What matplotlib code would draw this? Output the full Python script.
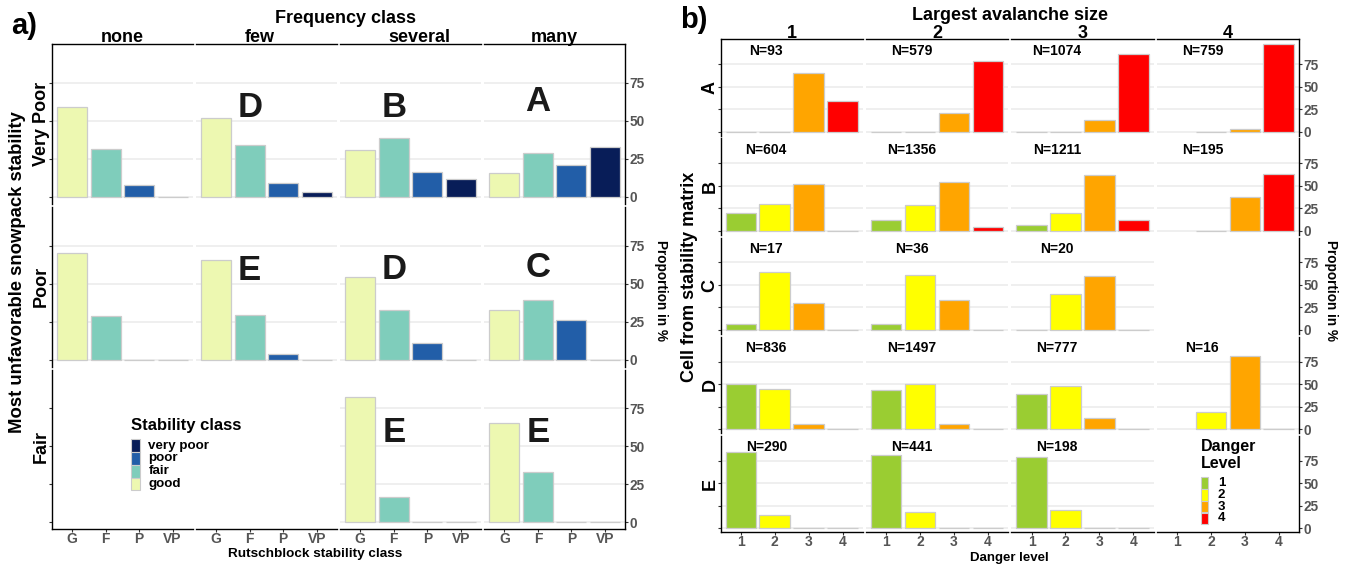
import numpy as np
import matplotlib
matplotlib.use('Agg')
import matplotlib.pyplot as plt
from matplotlib.patches import Rectangle

plt.rcParams['font.family'] = ['Liberation Sans', 'DejaVu Sans']

# ---------------- data: panel a ----------------
freq_classes = ['none', 'few', 'several', 'many']
stability_rows = ['Very Poor', 'Poor', 'Fair']
rb_classes = ['G', 'F', 'P', 'VP']
stability_legend = ['very poor', 'poor', 'fair', 'good']
stability_colors = ['#EDF8B1', '#7FCDBB', '#225EA8', '#081D58']  # G, F, P, VP

a_very_poor = [[59.4, 31.8, 7.7, 0.0], [51.8, 34.2, 9.2, 3.5],
               [31.1, 38.6, 16.7, 12.0], [16.0, 28.9, 20.8, 33.1]]
a_poor = [[69.9, 28.7, 0.0, 0.0], [65.6, 29.4, 3.5, 0.0],
          [54.4, 32.7, 10.7, 0.0], [32.7, 39.0, 25.9, 0.0]]
a_fair = [None, None, [82.4, 16.6, 0.0, 0.0], [65.6, 33.1, 0.0, 0.0]]
a_letters = [[None, 'D', 'B', 'A'], [None, 'E', 'D', 'C'], [None, None, 'E', 'E']]
a_letter_y = [[None, 61, 61, 65], [None, 60.7, 61.5, 62.9], [None, None, 61.4, 61.4]]

# ---------------- data: panel b ----------------
nan = np.nan
aval_sizes = ['1', '2', '3', '4']
matrix_cells = ['A', 'B', 'C', 'D', 'E']
danger_levels = ['1', '2', '3', '4']
danger_colors = ['#9ACD32', '#FFFF00', '#FFA500', '#FF0000']

b_cell_A = [[0, 0, 65.6, 34.4], [0, 0, 21.1, 78.6], [0, 0, 13.0, 86.3], [nan, 0, 2.6, 97.1]]
b_cell_B = [[19.3, 29.6, 51.5, 0], [12.4, 28.2, 54.8, 4.6], [6.2, 19.8, 62.3, 12.0], [nan, 0, 37.4, 63.0]]
b_cell_C = [[6.3, 64.8, 29.6, 0], [6.3, 61.0, 33.5, 0], [0, 40.0, 60.0, 0], None]
b_cell_D = [[49.7, 44.1, 5.2, 0], [43.3, 50.0, 6.0, 0], [39.3, 48.2, 11.9, 0], [nan, 18.5, 80.8, 0]]
b_cell_E = [[84.4, 14.1, 0.6, 0], [81.5, 18.5, 0, 0], [79.3, 20.4, 0, 0], None]
b_counts = [[93, 579, 1074, 759], [604, 1356, 1211, 195], [17, 36, 20, None],
            [836, 1497, 777, 16], [290, 441, 198, None]]

# ---------------- figure ----------------
W, H = 1348, 566
fig = plt.figure(figsize=(W / 100, H / 100), dpi=100)
fig.patch.set_facecolor('white')

GRID_C = '#EBEBEB'
EDGE_C = '#CCCCCC'
TICK_C = '#555555'
BOLD = 'bold'


def add_ax(x0, y0, w, h):
    return fig.add_axes([x0 / W, 1 - (y0 + h) / H, w / W, h / H])


def ftext(x, y, s, **kw):
    return fig.text(x / W, 1 - y / H, s, **kw)


def style(ax, ylim, left, right, top, bottom, blank, xlabels):
    ax.set_xlim(0.4, 4.6)
    ax.set_ylim(*ylim)
    ax.set_facecolor('white')
    for name, flag in (('left', left), ('right', right), ('top', top), ('bottom', bottom)):
        ax.spines[name].set_visible(flag)
        ax.spines[name].set_color('black')
        ax.spines[name].set_linewidth(1.0)
    if not blank:
        for g in (0, 25, 50, 75):
            ax.axhline(g, color=GRID_C, lw=1.1, zorder=0)
    ax.set_yticks([0, 25, 50, 75])
    if right:
        ax.yaxis.tick_right()
        ax.set_yticklabels(['0', '25', '50', '75'])
        ax.tick_params(axis='y', right=True, left=False, labelright=True, labelleft=False,
                       length=2, width=0.8, pad=1, colors='#333333', labelcolor=TICK_C,
                       labelsize=9.8)
        for t in ax.get_yticklabels():
            t.set_fontweight(BOLD)
    elif left:
        ax.tick_params(axis='y', left=True, right=False, labelleft=False, labelright=False,
                       length=2, width=0.8, colors='#333333')
    else:
        ax.tick_params(axis='y', left=False, right=False, labelleft=False, labelright=False)
    ax.set_xticks([1, 2, 3, 4])
    if bottom:
        ax.set_xticklabels(xlabels)
        ax.tick_params(axis='x', bottom=True, length=2, width=0.8, pad=0,
                       colors='#333333', labelcolor=TICK_C, labelsize=10)
        for t in ax.get_xticklabels():
            t.set_fontweight(BOLD)
    else:
        ax.tick_params(axis='x', bottom=False, labelbottom=False)


def draw_bars(ax, vals, colors):
    xs = [i + 1 for i, v in enumerate(vals) if not np.isnan(v)]
    hs = [v for v in vals if not np.isnan(v)]
    cs = [colors[i] for i, v in enumerate(vals) if not np.isnan(v)]
    ax.bar(xs, hs, width=0.9, color=cs, edgecolor=EDGE_C, linewidth=0.9, zorder=2)


# ---------------- panel a ----------------
A_LEFT, A_RIGHT, A_GAPX = 52, 625, 3.4
A_W = (A_RIGHT - A_LEFT - 3 * A_GAPX) / 4
A_TOP, A_BOT, A_GAPY = 44, 529.3, 3
A_H = (A_BOT - A_TOP - 2 * A_GAPY) / 3
A_YLIM = (-4.5, 100.6)
a_rows = [a_very_poor, a_poor, a_fair]

for r in range(3):
    for c in range(4):
        ax = add_ax(A_LEFT + c * (A_W + A_GAPX), A_TOP + r * (A_H + A_GAPY), A_W, A_H)
        vals = a_rows[r][c]
        blank = vals is None
        style(ax, A_YLIM, c == 0, c == 3, r == 0, r == 2, blank, rb_classes)
        if not blank:
            draw_bars(ax, np.array(vals, dtype=float), stability_colors)
        letter = a_letters[r][c]
        if letter:
            ax.annotate(letter, (2, a_letter_y[r][c]), xytext=(0, -9), textcoords='offset points',
                        ha='center', va='baseline', fontsize=25, fontweight=BOLD, color='#1A1A1A',
                        zorder=3)

ftext(24, 34, 'a)', fontsize=21, fontweight=BOLD, ha='center', va='baseline')
ftext(345.4, 23, 'Frequency class', fontsize=13, fontweight=BOLD, ha='center', va='baseline')
for name, xc in zip(freq_classes, [122.3, 259.3, 419.8, 554.0]):
    ftext(xc, 42.5, name, fontsize=13, fontweight=BOLD, ha='center', va='baseline')
for k, name in enumerate(stability_rows):
    yc = A_TOP + k * (A_H + A_GAPY) + A_H / 2
    if k == 2:
        yc -= 3
    ftext(41.2, yc, name, fontsize=13, fontweight=BOLD, rotation=90, ha='center', va='center')
ftext(17.3, 272, 'Most unfavorable snowpack stability', fontsize=13.3, fontweight=BOLD,
      rotation=90, ha='center', va='center')
ftext(661, 291, 'Proportion in %', fontsize=9.8, fontweight=BOLD, rotation=270,
      ha='center', va='center')
ftext(314.8, 554.5, 'Rutschblock stability class', fontsize=9.7, fontweight=BOLD,
      ha='center', va='center')

# legend a
ftext(131.4, 430, 'Stability class', fontsize=12, fontweight=BOLD, ha='left', va='baseline')
leg_a_colors = stability_colors[::-1]
for i, (lab, col) in enumerate(zip(stability_legend, leg_a_colors)):
    yc = 445.7 + i * 12.8
    fig.add_artist(Rectangle((131.4 / W, 1 - (yc + 6.3) / H), 8.2 / W, 12.6 / H,
                             transform=fig.transFigure, facecolor=col, edgecolor=EDGE_C, lw=0.8))
    ftext(148.3, yc, lab, fontsize=9.6, fontweight=BOLD, ha='left', va='center')

# ---------------- panel b ----------------
B_LEFT, B_RIGHT, B_GAPX = 720.5, 1299, 3
B_W = (B_RIGHT - B_LEFT - 3 * B_GAPX) / 4
B_TOP, B_BOT, B_GAPY = 39.3, 532.3, 2.5
B_H = (B_BOT - B_TOP - 4 * B_GAPY) / 5
B_YLIM = (-4.6, 102.7)
b_rows = [b_cell_A, b_cell_B, b_cell_C, b_cell_D, b_cell_E]

for r in range(5):
    for c in range(4):
        ax = add_ax(B_LEFT + c * (B_W + B_GAPX), B_TOP + r * (B_H + B_GAPY), B_W, B_H)
        vals = b_rows[r][c]
        blank = vals is None
        style(ax, B_YLIM, c == 0, c == 3, r == 0, r == 4, blank, danger_levels)
        if not blank:
            draw_bars(ax, np.array(vals, dtype=float), danger_colors)
        n = b_counts[r][c]
        if n is not None:
            ax.text(1.75, 90, f'N={n}', ha='center', va='center', fontsize=10,
                    fontweight=BOLD, zorder=3)

ftext(694, 28, 'b)', fontsize=21, fontweight=BOLD, ha='center', va='baseline')
ftext((B_LEFT + B_RIGHT) / 2, 19.5, 'Largest avalanche size', fontsize=13, fontweight=BOLD,
      ha='center', va='baseline')
for c, name in enumerate(aval_sizes):
    xc = B_LEFT + c * (B_W + B_GAPX) + B_W / 2
    ftext(xc, 38.3, name, fontsize=13, fontweight=BOLD, ha='center', va='baseline')
for k, name in enumerate(matrix_cells):
    yc = B_TOP + k * (B_H + B_GAPY) + B_H / 2
    ftext(710, yc, name, fontsize=13, fontweight=BOLD, rotation=90, ha='center', va='center')
ftext(690, 277, 'Cell from stability matrix', fontsize=13, fontweight=BOLD, rotation=90,
      ha='center', va='center')
ftext(1331.5, 290, 'Proportion in %', fontsize=9.8, fontweight=BOLD, rotation=270,
      ha='center', va='center')
ftext((B_LEFT + B_RIGHT) / 2, 557.5, 'Danger level', fontsize=9.5, fontweight=BOLD,
      ha='center', va='center')

# legend b
ftext(1200.7, 450.5, 'Danger', fontsize=11.5, fontweight=BOLD, ha='left', va='baseline')
ftext(1200.7, 467.5, 'Level', fontsize=11.5, fontweight=BOLD, ha='left', va='baseline')
for i, (lab, col) in enumerate(zip(danger_levels, danger_colors)):
    yc = 482.7 + i * 11.9
    fig.add_artist(Rectangle((1200.7 / W, 1 - (yc + 5.9) / H), 7.6 / W, 11.8 / H,
                             transform=fig.transFigure, facecolor=col, edgecolor=EDGE_C, lw=0.8))
    ftext(1217.7, yc, lab, fontsize=9.5, fontweight=BOLD, ha='left', va='center')

fig.savefig('out.png', dpi=100, facecolor='white')
